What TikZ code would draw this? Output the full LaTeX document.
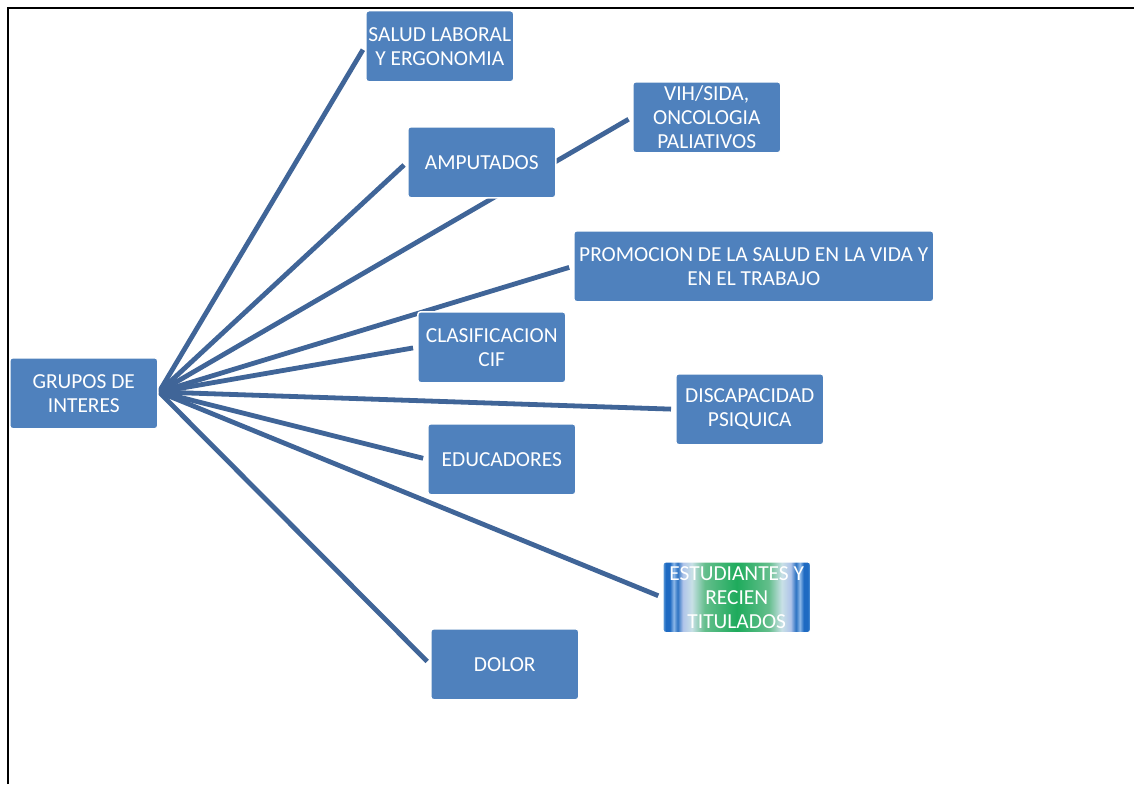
\documentclass[tikz,border=0pt]{standalone}
\usepackage{fontspec}
\setmainfont{Carlito}
\usetikzlibrary{backgrounds}
\definecolor{boxblue}{RGB}{79,129,189}
\definecolor{linkblue}{RGB}{64,101,152}
\definecolor{sb1}{RGB}{108,166,221}
\definecolor{sb2}{RGB}{30,106,194}
\definecolor{sb3}{RGB}{141,184,232}
\definecolor{sb4}{RGB}{44,114,194}
\definecolor{sb5}{RGB}{176,196,234}
\definecolor{sb6}{RGB}{200,224,230}
\definecolor{sb7}{RGB}{100,190,140}
\definecolor{sb8}{RGB}{30,171,92}
\pgfdeclarehorizontalshading{estud}{100bp}{color(0bp)=(sb1); color(25bp)=(sb1); color(26bp)=(sb2); color(27.4bp)=(sb2); color(28.7bp)=(sb3); color(30bp)=(sb4); color(31.8bp)=(sb5); color(34.8bp)=(sb6); color(39.2bp)=(sb7); color(50bp)=(sb8); color(60.8bp)=(sb7); color(65.2bp)=(sb6); color(68.2bp)=(sb5); color(70bp)=(sb4); color(71.3bp)=(sb3); color(72.6bp)=(sb2); color(74bp)=(sb2); color(75bp)=(sb1); color(100bp)=(sb1)}
\begin{document}
\begin{tikzpicture}[x=1pt,y=-1pt,
  topic/.style={rectangle, rounded corners=3pt, fill=boxblue, draw=white, line width=1.5pt,
    minimum width=148pt, minimum height=71pt, inner sep=1pt, align=center, text=white,
    font=\fontsize{21.4}{24}\selectfont},
  link/.style={draw=linkblue, line width=4.8pt, shorten >=4pt}]
\useasboundingbox (0,0) rectangle (1134,784);

\coordinate (hub) at (159,392);

\node[topic, anchor=north west] (grupos) at (9,357) {GRUPOS DE\\INTERES};
\node[topic, anchor=north west] (salud) at (365,10) {SALUD LABORAL\\Y ERGONOMIA};
\node[topic, anchor=north west] (amput) at (407,126) {AMPUTADOS};
\node[topic, anchor=north west] (vih) at (632,81) {VIH/SIDA,\\ONCOLOGIA\\PALIATIVOS};
\node[topic, anchor=north west, minimum width=360pt] (promo) at (573,230) {PROMOCION DE LA SALUD EN LA VIDA Y\\EN EL TRABAJO};
\node[topic, anchor=north west] (clasif) at (417,311) {CLASIFICACION\\CIF};
\node[topic, anchor=north west] (disc) at (675,373) {DISCAPACIDAD\\PSIQUICA};
\node[topic, anchor=north west] (educ) at (427,423) {EDUCADORES};
\node[topic, anchor=north west, shading=estud, fill=none] (estud) at (662,561) {ESTUDIANTES Y\\RECIEN\\TITULADOS};
\node[topic, anchor=north west] (dolor) at (430,628) {DOLOR};

\begin{scope}[on background layer]
\fill[white] (0,0) rectangle (1134,784);
\draw[link] (hub) -- (salud.west);
\draw[link] (hub) -- (amput.west);
\draw[link] (hub) -- (vih.west);
\draw[link] (hub) -- (promo.west);
\draw[link] (hub) -- (clasif.west);
\draw[link] (hub) -- (disc.west);
\draw[link] (hub) -- (educ.west);
\draw[link] (hub) -- (estud.west);
\draw[link] (hub) -- (dolor.west);
\end{scope}
\draw[line width=2.5pt, black] (8,784) -- (8,8) -- (1134,8);
\end{tikzpicture}
\end{document}
